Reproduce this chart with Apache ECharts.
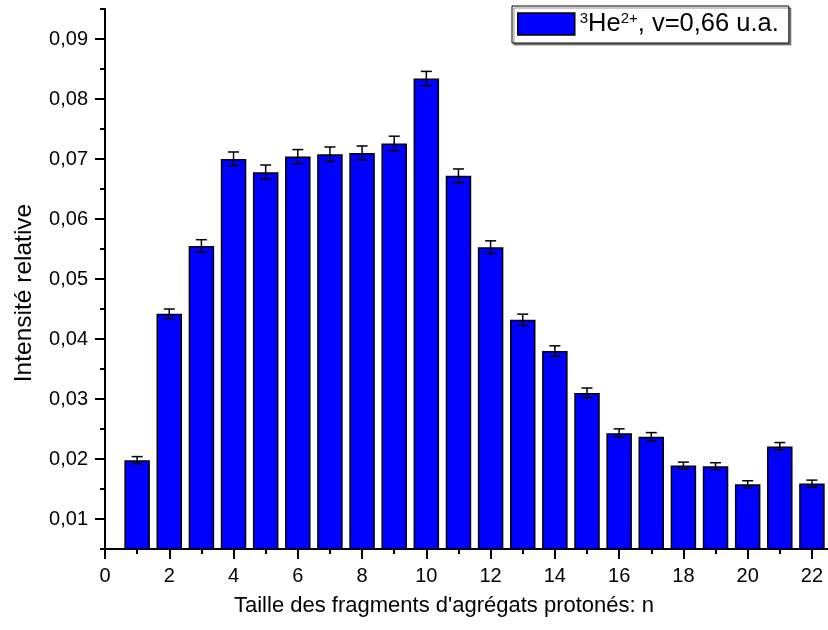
<!DOCTYPE html>
<html>
<head>
<meta charset="utf-8">
<script src="https://cdn.jsdelivr.net/npm/echarts@6/dist/echarts.min.js"></script>
<style>
html,body{margin:0;padding:0;background:#fff;overflow:hidden;}
#chart{width:828px;height:630px;}
</style>
</head>
<body>
<div id="chart"></div>
<script>
// Fragment size n
const sizes = [1,2,3,4,5,6,7,8,9,10,11,12,13,14,15,16,17,18,19,20,21,22];
// Relative intensity
const intensity = [0.0198,0.0442,0.0555,0.0700,0.0678,0.0704,0.0708,0.0710,0.0726,0.0834,0.0672,
                   0.0553,0.0432,0.0380,0.0310,0.0243,0.0237,0.0189,0.0188,0.0158,0.0221,0.0159];
// Error (half-width)
const errors = [0.0006,0.0008,0.00105,0.00117,0.0012,0.00117,0.0012,0.00117,0.0012,0.0012,0.00114,
                0.00106,0.00094,0.00086,0.00083,0.00072,0.0007,0.00058,0.00058,0.00058,0.00064,0.00058];
// Tick values
const xMajorTicks = [0,2,4,6,8,10,12,14,16,18,20,22];
const xMinorTicks = [1,3,5,7,9,11,13,15,17,19,21];
const yMajorTicks = [0.01,0.02,0.03,0.04,0.05,0.06,0.07,0.08,0.09];
const yMinorTicks = [0.005,0.015,0.025,0.035,0.045,0.055,0.065,0.075,0.085,0.095];
const seriesName = 'He';
const xTitle = "Taille des fragments d'agrégats protonés: n";
const yTitle = 'Intensité relative';

const FONT = 'Liberation Sans, Arial, sans-serif';
const chart = echarts.init(document.getElementById('chart'), null, {renderer:'canvas'});

const X_MIN = 0, X_MAX = 22.5, Y_MIN = 0.005, Y_MAX = 0.095;

const option = {
  animation: false,
  backgroundColor: '#fff',
  grid: {left: 105, top: 9, bottom: 81, right: -1.5, containLabel: false},
  legend: {
    data: [seriesName],
    left: 512, top: 6,
    padding: [5, 10, 6, 5],
    backgroundColor: '#fff',
    borderColor: '#000', borderWidth: 1,
    shadowColor: 'rgba(0,0,0,0.45)', shadowOffsetX: 2, shadowOffsetY: 2, shadowBlur: 0,
    icon: 'rect', itemWidth: 57, itemHeight: 22,
    itemStyle: {color: '#0000ff', borderColor: '#000', borderWidth: 1.5},
    formatter: () => '{sup|3}He{sup|2+}, v=0,66 u.a.',
    textStyle: {
      fontFamily: FONT, fontSize: 25.5, color: '#000', lineHeight: 26,
      rich: {sup: {fontFamily: FONT, fontSize: 15, color: '#000', verticalAlign: 'top', lineHeight: 14}}
    }
  },
  xAxis: [{
    type: 'value', min: X_MIN, max: X_MAX, interval: 2, position: 'bottom',
    axisLine: {show: true, onZero: false, lineStyle: {color: '#000', width: 2}},
    axisTick: {show: true, inside: false, length: 10, customValues: xMajorTicks, lineStyle: {color: '#000', width: 2}},
    axisLabel: {customValues: xMajorTicks, fontFamily: FONT, fontSize: 20, color: '#000', margin: 17},
    splitLine: {show: false}
  }, {
    type: 'value', min: X_MIN, max: X_MAX, position: 'bottom', offset: 0,
    axisLine: {show: false},
    axisTick: {show: true, inside: false, length: 5, customValues: xMinorTicks, lineStyle: {color: '#000', width: 2}},
    axisLabel: {show: false},
    splitLine: {show: false}
  }],
  yAxis: [{
    type: 'value', min: Y_MIN, max: Y_MAX, position: 'left',
    axisLine: {show: true, onZero: false, lineStyle: {color: '#000', width: 2}},
    axisTick: {show: true, inside: false, length: 10, customValues: yMajorTicks, lineStyle: {color: '#000', width: 2}},
    axisLabel: {customValues: yMajorTicks, fontFamily: FONT, fontSize: 20, color: '#000', margin: 17,
      formatter: v => v.toFixed(2).replace('.', ',')},
    splitLine: {show: false}
  }, {
    type: 'value', min: Y_MIN, max: Y_MAX, position: 'left', offset: 0,
    axisLine: {show: false},
    axisTick: {show: true, inside: false, length: 5, customValues: yMinorTicks, lineStyle: {color: '#000', width: 2}},
    axisLabel: {show: false},
    splitLine: {show: false}
  }],
  graphic: [
    {type: 'text', x: 444, y: 606, style: {text: xTitle, font: '22px ' + FONT, fill: '#000', textAlign: 'center', textVerticalAlign: 'middle'}},
    {type: 'text', x: 24, y: 293, rotation: Math.PI / 2, style: {text: yTitle, font: '24.5px ' + FONT, fill: '#000', textAlign: 'center', textVerticalAlign: 'middle'}}
  ],
  series: [{
    name: seriesName, type: 'bar', xAxisIndex: 0, yAxisIndex: 0,
    barWidth: 25.5,
    itemStyle: {color: '#0000ff', borderColor: '#000', borderWidth: 1.5},
    data: sizes.map((x, i) => [x, intensity[i]]),
    z: 2
  }, {
    name: 'err', type: 'custom', xAxisIndex: 0, yAxisIndex: 0, z: 3,
    data: sizes.map((x, i) => [x, intensity[i], errors[i]]),
    renderItem: (params, api) => {
      const x = api.value(0), y = api.value(1), e = api.value(2);
      const hi = api.coord([x, y + e]);
      const lo = api.coord([x, y - e]);
      const hw = 5.5;
      const st = {stroke: '#000', lineWidth: 1.5};
      return {type: 'group', children: [
        {type: 'line', shape: {x1: hi[0], y1: hi[1], x2: lo[0], y2: lo[1]}, style: st},
        {type: 'line', shape: {x1: hi[0] - hw, y1: hi[1], x2: hi[0] + hw, y2: hi[1]}, style: st},
        {type: 'line', shape: {x1: lo[0] - hw, y1: lo[1], x2: lo[0] + hw, y2: lo[1]}, style: st}
      ]};
    }
  }]
};
chart.setOption(option);
</script>
</body>
</html>
